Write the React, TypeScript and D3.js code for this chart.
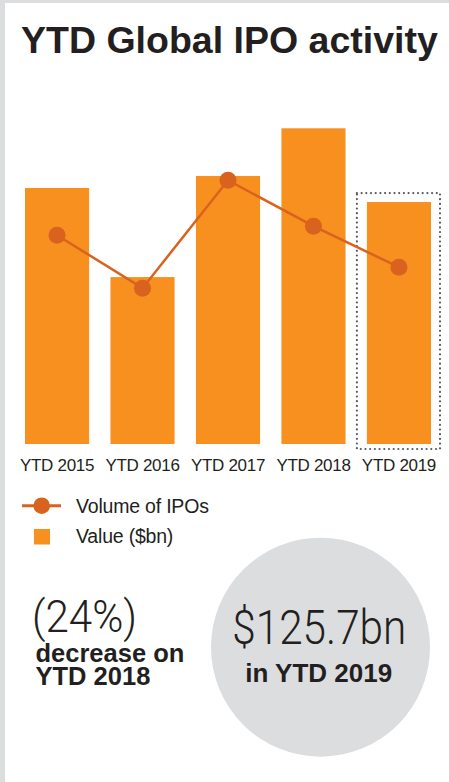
import * as d3 from "d3";

const categories = ["YTD 2015", "YTD 2016", "YTD 2017", "YTD 2018", "YTD 2019"];
const valueBn = [133, 86.7, 139.2, 164, 125.7];
const ipoVolume = [627, 468, 792, 654, 531];
const legendLabels = ["Volume of IPOs", "Value ($bn)"];

const W = 449;
const H = 782;
const orange = "#f7901e";
const darkOrange = "#d9631e";
const ink = "#231f20";
const grey = "#dcdddf";

const App = () => {
  const x = d3.scaleBand<string>().domain(categories).range([25, 431]).paddingInner(0.25).paddingOuter(0);
  const y = d3.scaleLinear().domain([0, 170]).range([444, 444 - 170 * 1.925]);
  const yVol = d3.scaleLinear().domain([0, 1000]).range([444, 111]);

  const pts = categories.map((c, i) => [x(c)! + x.bandwidth() / 2, yVol(ipoVolume[i])] as [number, number]);
  const line = d3.line();

  // highlight box around the latest bar
  const last = categories[categories.length - 1];
  const hx = x(last)! - 10;
  const hy = y(valueBn[valueBn.length - 1]) - 9;
  const hw = x.bandwidth() + 19;
  const hh = y(0) + 5 - hy;

  const font = "'Liberation Sans', Arial, Helvetica, sans-serif";
  const light = "Roboto, 'Liberation Sans', sans-serif";

  return (
    <div style={{ position: "fixed", left: 0, top: 0 }}>
      <svg width={W} height={H} style={{ display: "block" }} fontFamily={font}>
        <rect width={W} height={H} fill={grey} />
        <rect x={5} y={3} width={W - 5} height={H - 3} fill="#fff" />

        <text x={21} y={52.5} fontSize={37.5} fontWeight="bold" fill={ink}>
          YTD Global IPO activity
        </text>

        {categories.map((c, i) => (
          <rect key={c} x={x(c)} y={y(valueBn[i])} width={x.bandwidth()} height={y(0) - y(valueBn[i])} fill={orange} />
        ))}

        <rect x={hx} y={hy} width={hw} height={hh} fill="none" stroke="#58595b" strokeWidth={2.2}
          strokeDasharray="0 4.7" strokeLinecap="round" />

        <path d={line(pts) ?? ""} fill="none" stroke={darkOrange} strokeWidth={2.5} />
        {pts.map((p, i) => (
          <circle key={i} cx={p[0]} cy={p[1]} r={8.5} fill={darkOrange} />
        ))}

        {categories.map((c) => (
          <text key={c} x={x(c)! + x.bandwidth() / 2} y={471} fontSize={17} letterSpacing={-0.3}
            textAnchor="middle" fill={ink}>
            {c}
          </text>
        ))}

        <line x1={22} x2={61} y1={505.7} y2={505.7} stroke={darkOrange} strokeWidth={3} />
        <circle cx={41.7} cy={505.7} r={8.3} fill={darkOrange} />
        <text x={76} y={512.5} fontSize={19.5} letterSpacing={-0.2} fill={ink}>{legendLabels[0]}</text>
        <rect x={34} y={529} width={16} height={15.5} fill={orange} />
        <text x={76} y={543} fontSize={19.5} letterSpacing={-0.2} fill={ink}>{legendLabels[1]}</text>

        <text x={32} y={631.7} fontSize={45} fontWeight={300} fontFamily={light} fill={ink}
          textLength={105} lengthAdjust="spacingAndGlyphs">(24%)</text>
        <text x={35.5} y={662.3} fontSize={25.5} fontWeight="bold" fill={ink}>decrease on</text>
        <text x={35.5} y={685} fontSize={25.5} fontWeight="bold" fill={ink}>YTD 2018</text>

        <circle cx={320.5} cy={647.2} r={109.5} fill={grey} />
        <text x={232.3} y={644.3} fontSize={48} fontWeight={300} fontFamily={light} fill={ink}
          textLength={174} lengthAdjust="spacingAndGlyphs">$125.7bn</text>
        <text x={318.7} y={682.3} fontSize={26} fontWeight="bold" textAnchor="middle" fill={ink}>in YTD 2019</text>
      </svg>
    </div>
  );
};

export default App;
